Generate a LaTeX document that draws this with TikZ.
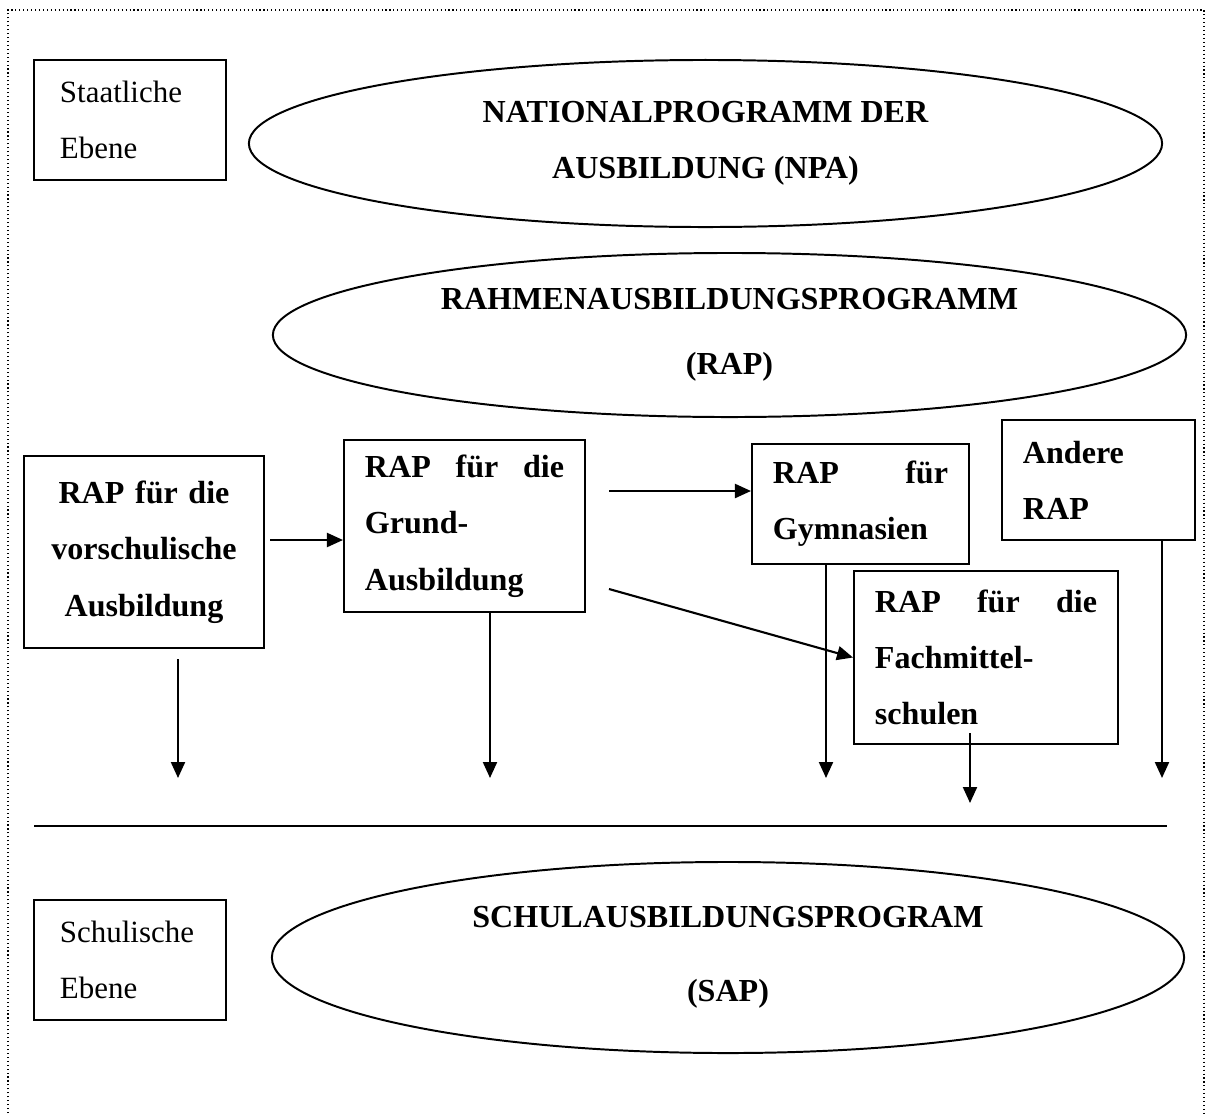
\documentclass[tikz,border=0pt]{standalone}
\usepackage{fontspec}
\setmainfont{Liberation Serif}
\usetikzlibrary{shapes.geometric, arrows.meta, positioning}

\begin{document}
\begin{tikzpicture}[x=0.025cm, y=-0.025cm,
		font=\fontsize{22}{40}\selectfont,
		kasten/.style={draw, line width=1.4pt, inner ysep=0pt},
		ebene/.style={kasten, align=left, text width=3.5cm, inner xsep=0.65cm, minimum width=4.8cm, minimum height=3cm},
		rap/.style={kasten, font=\fontsize{22.8}{40}\selectfont\bfseries, inner xsep=0.525cm},
		programm/.style={draw, ellipse, line width=1.4pt, inner sep=0pt, align=center, font=\fontsize{22.8}{40}\selectfont\bfseries},
		pfeil/.style={line width=1.5pt, -{Triangle[length=0.4cm, width=0.35cm]}}]
			% Rahmen
			\useasboundingbox (0,0) rectangle (1210,1113);
			\draw[dotted, line width=0.8pt] (8,1113) -- (8,10) -- (1204,10) -- (1204,1113);
			
			% Staatliche Ebene
			\node[ebene] (staat) at (130,120) {Staatliche\\Ebene};
			\node[programm, minimum width=22.825cm, minimum height=4.175cm] (npa) at (705.5,143.5) {NATIONALPROGRAMM DER\\AUSBILDUNG (NPA)};
			\node[programm, minimum width=22.825cm, minimum height=4.1cm] (rahmen) at (729.5,335) {RAHMENAUSBILDUNGSPROGRAMM\\[6pt](RAP)};
			
			% Rahmenprogramme
			\node[rap, align=center, text width=4.95cm, minimum height=4.8cm] (vor) at (144,552) {RAP für die\\vorschulische\\Ausbildung};
			\node[rap, align=left, text width=4.975cm, minimum height=4.3cm] (grund) at (464.5,526) {RAP\hfill für\hfill die\\Grund-\\Ausbildung};
			\node[rap, align=left, text width=4.375cm, minimum height=3cm] (gym) at (860.5,504) {RAP\hfill für\\Gymnasien};
			\node[rap, align=left, text width=3.775cm, minimum height=3cm] (andere) at (1098.5,480) {Andere\\RAP};
			\node[rap, align=left, text width=5.55cm, minimum height=4.325cm] (fach) at (986,657.5) {RAP\hfill für\hfill die\\Fachmittel-\\schulen};
			
			% Pfeile zwischen den Programmen
			\coordinate (v1) at (270,540);
			\draw[pfeil] (v1) -- (v1 -| grund.west);
			\coordinate (g1) at (609,491);
			\draw[pfeil] (g1) -- (g1 -| gym.west);
			\coordinate (g2) at (609,589);
			\draw[pfeil] (g2) -- (fach.west);
			
			% Pfeile nach unten
			\foreach \n/\x in {1/178, 2/490, 3/826, 5/1162} {
				\coordinate (ziel\n) at (\x,778);
			}
			\coordinate (ziel4) at (970,803);
			\path (vor.south -| ziel1) ++(0,10) coordinate (start1);
			\path (fach.south -| ziel4) ++(0,-12) coordinate (start4);
			\draw[pfeil] (start1) -- (ziel1);
			\draw[pfeil] (grund.south -| ziel2) -- (ziel2);
			\draw[pfeil] (gym.south -| ziel3) -- (ziel3);
			\draw[pfeil] (start4) -- (ziel4);
			\draw[pfeil] (andere.south -| ziel5) -- (ziel5);
			
			% Trennlinie
			\coordinate (links) at (34,826);
			\coordinate (rechts) at (1167,826);
			\draw[line width=1.2pt] (links) -- (rechts);
			
			% Schulische Ebene
			\node[ebene] (schul) at (130,960) {Schulische\\Ebene};
			\node[programm, minimum width=22.8cm, minimum height=4.775cm] (sap) at (728,957.5) {SCHULAUSBILDUNGSPROGRAM\\[13pt](SAP)};
		\end{tikzpicture}
\end{document}
